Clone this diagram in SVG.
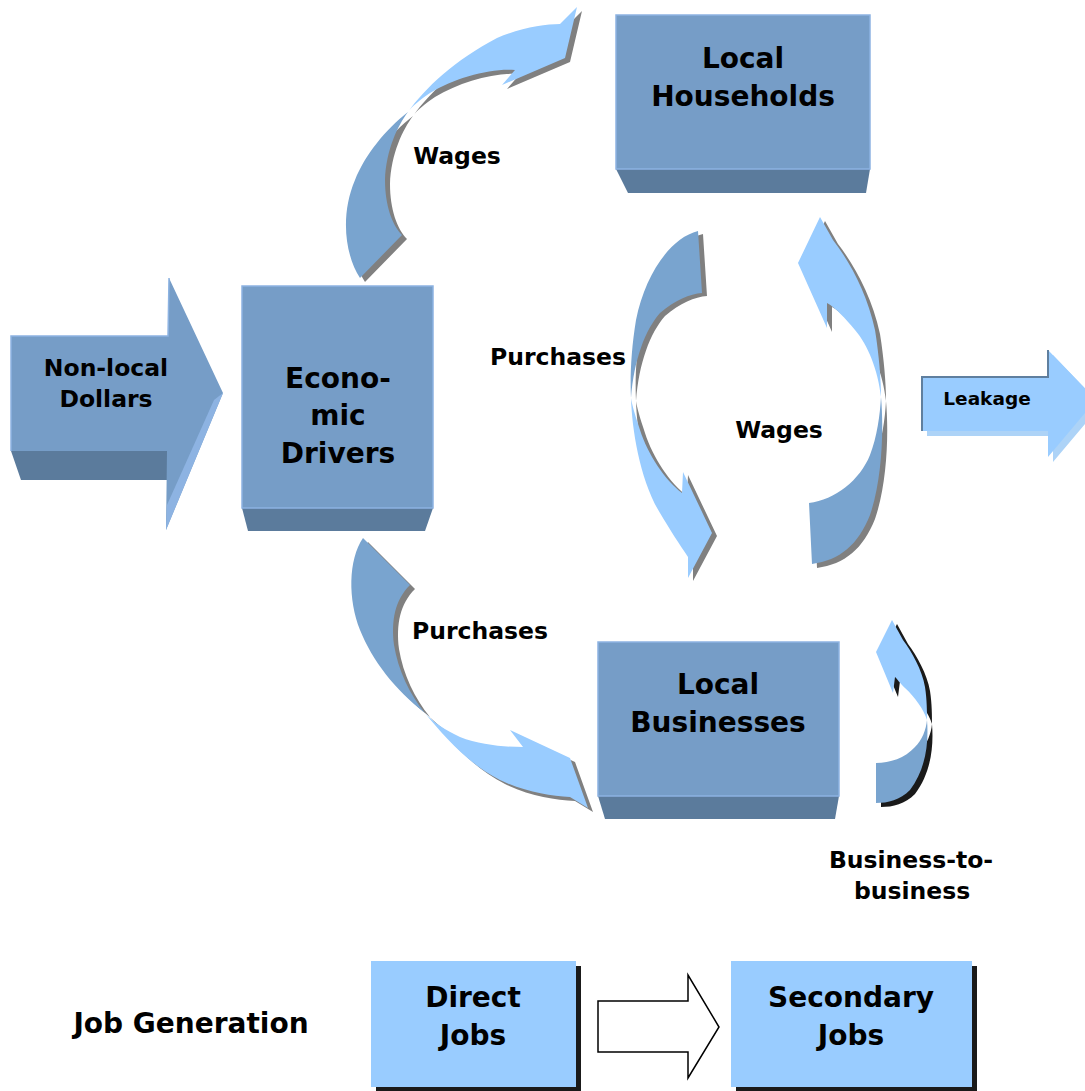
<svg xmlns="http://www.w3.org/2000/svg" width="1085" height="1091" viewBox="0 0 1085 1091">
<style>
.box{fill:#769DC7;stroke:#8DB3E2;stroke-width:1.5}
.bevel{fill:#5B7B9C}
.dark{fill:#79A4CF}
.light{fill:#99CCFF}
.shd{fill:#808080}
.t{font-family:"DejaVu Sans",Verdana,sans-serif;font-weight:bold;fill:#000;text-anchor:middle}
.big{font-size:28px}
.lab{font-size:23.5px}
</style>
<defs>
<g id="arrTop">
<path id="arrTopD" d="M360,278 C345,255 340,215 355,180 C365,155 385,130 408,112 C398,125 386,150 385,180 C385,205 392,225 402,235 Z"/>
<path id="arrTopL" d="M408,112 C425,88 455,60 497,38 C520,28 545,24 560,24 L577,7 L565,58 L502,85 L515,70 C490,68 455,78 430,93 C420,100 412,106 408,112 Z"/>
</g>
</defs>
<rect width="1085" height="1091" fill="#fff"/>

<g id="connectors">
<!-- Wages (top) -->
<g id="conn-wages-top">
<g class="shd" transform="translate(5,4)">
<path d="M360,278 C345,255 340,215 355,180 C365,155 385,130 408,112 C398,125 386,150 385,180 C385,205 392,225 402,235 Z"/>
<path d="M408,112 C425,88 455,60 497,38 C520,28 545,24 560,24 L577,7 L565,58 L502,85 L515,70 C490,68 455,78 430,93 C420,100 412,106 408,112 Z"/>
</g>
<path class="dark" d="M360,278 C345,255 340,215 355,180 C365,155 385,130 408,112 C398,125 386,150 385,180 C385,205 392,225 402,235 Z"/>
<path class="light" d="M408,112 C425,88 455,60 497,38 C520,28 545,24 560,24 L577,7 L565,58 L502,85 L515,70 C490,68 455,78 430,93 C420,100 412,106 408,112 Z"/>
</g>
<!-- Purchases (households to businesses) -->
<g id="conn-purchases-mid">
<g class="shd" transform="translate(5,3)">
<path d="M698,231 C670,238 645,275 636,320 C631,350 630,378 631,398 C634,360 645,330 660,313 C675,300 690,294 702,293 Z"/>
<path d="M631,398 C632,430 640,480 660,513 C670,530 680,545 688,557 L688,578 L712,533 L683,472 L682,493 C665,480 648,455 640,430 C635,415 632,405 631,398 Z"/>
</g>
<path class="dark" d="M698,231 C670,238 645,275 636,320 C631,350 630,378 631,398 C634,360 645,330 660,313 C675,300 690,294 702,293 Z"/>
<path class="light" d="M631,398 C632,430 640,480 660,513 C670,530 680,545 688,557 L688,578 L712,533 L683,472 L682,493 C665,480 648,455 640,430 C635,415 632,405 631,398 Z"/>
</g>
<!-- Wages (businesses to households) -->
<g id="conn-wages-mid">
<g class="shd" transform="translate(5,4)">
<path d="M820,217 L833,240 C850,262 867,293 875,330 C879,355 881,380 881,397 C878,370 868,345 855,330 C845,318 836,308 827,303 L827,328 L798,263 Z"/>
<path d="M881,397 C884,430 882,480 870,515 C858,545 840,560 812,564 L809,503 C835,500 860,480 870,455 C877,437 880,415 881,397 Z"/>
</g>
<path class="light" d="M820,217 L833,240 C850,262 867,293 875,330 C879,355 881,380 881,397 C878,370 868,345 855,330 C845,318 836,308 827,303 L827,328 L798,263 Z"/>
<path class="dark" d="M881,397 C884,430 882,480 870,515 C858,545 840,560 812,564 L809,503 C835,500 860,480 870,455 C877,437 880,415 881,397 Z"/>
</g>
<!-- Purchases (drivers to businesses) -->
<g id="conn-purchases-low">
<g class="shd" transform="translate(5,4)">
<path d="M363,538 C348,560 348,600 360,630 C372,660 395,690 425,713 C410,695 398,670 394,645 C391,620 395,600 410,585 Z"/>
<path d="M425,713 C445,738 470,765 500,780 C525,792 550,796 570,797 L588,808 L570,758 L510,730 L523,747 C505,747 480,745 460,737 C445,730 433,722 425,713 Z"/>
</g>
<path class="dark" d="M363,538 C348,560 348,600 360,630 C372,660 395,690 425,713 C410,695 398,670 394,645 C391,620 395,600 410,585 Z"/>
<path class="light" d="M425,713 C445,738 470,765 500,780 C525,792 550,796 570,797 L588,808 L570,758 L510,730 L523,747 C505,747 480,745 460,737 C445,730 433,722 425,713 Z"/>
</g>
<!-- Business-to-business -->
<g id="conn-b2b">
<g fill="#1a1a1a" transform="translate(5,4)">
<path d="M892,620 L903,640 C912,652 922,670 925,687 C927,700 927,712 927,720 C924,710 915,697 905,688 C900,683 897,679 895,677 L893,693 L876,652 Z"/>
<path d="M927,720 C929,745 925,770 910,790 C900,800 888,803 876,803 L876,763 C890,763 905,758 915,747 C922,740 926,730 927,720 Z"/>
</g>
<path class="light" d="M892,620 L903,640 C912,652 922,670 925,687 C927,700 927,712 927,720 C924,710 915,697 905,688 C900,683 897,679 895,677 L893,693 L876,652 Z"/>
<path class="dark" d="M927,720 C929,745 925,770 910,790 C900,800 888,803 876,803 L876,763 C890,763 905,758 915,747 C922,740 926,730 927,720 Z"/>
</g>
<!-- Job arrow -->
<polygon id="conn-jobs" points="598,1001 688,1001 688,975 719,1027 688,1078 688,1052 598,1052" fill="#fff" stroke="#000" stroke-width="1.5"/>
</g>

<g id="node-nonlocal">
<polygon class="bevel" points="11,451 167,451 167,480 21,480"/>
<polygon points="11,336 168,336 169,278 223,393 166,530 167,451 11,451" fill="#769DC7"/>
<polygon points="223,393 166,530 167,505 214,400" fill="#8DB3E2"/>
<polyline points="11,451 11,336 168,336 169,278" fill="none" stroke="#8DB3E2" stroke-width="1.5"/>
<text class="t lab" x="106" y="376">Non-local</text>
<text class="t lab" x="106" y="407">Dollars</text>
</g>

<g id="node-drivers">
<polygon class="bevel" points="242,508 433,508 425,531 248,531"/>
<rect class="box" x="242" y="286" width="191" height="222"/>
<text class="t big" x="338" y="388">Econo-</text>
<text class="t big" x="338" y="425">mic</text>
<text class="t big" x="338" y="463">Drivers</text>
</g>

<g id="node-households">
<polygon class="bevel" points="616,169 870,169 866,193 628,193"/>
<rect class="box" x="616" y="15" width="254" height="154"/>
<text class="t big" x="743" y="68">Local</text>
<text class="t big" x="743" y="106">Households</text>
</g>

<g id="node-businesses">
<polygon class="bevel" points="598,796 839,796 835,819 605,819"/>
<rect class="box" x="598" y="642" width="241" height="154"/>
<text class="t big" x="718" y="694">Local</text>
<text class="t big" x="718" y="732">Businesses</text>
</g>

<g id="node-leakage">
<polygon points="927,382 1053,382 1053,355 1101,405 1053,462 1053,436 927,436" fill="#ADD3F7"/>
<polygon points="922,377 1048,377 1048,350 1096,400 1048,457 1048,431 922,431" fill="#99CCFF"/>
<polyline points="922,431 922,377 1048,377 1048,350" fill="none" stroke="#5F7F9F" stroke-width="2"/>
<text class="t" style="font-size:18.5px" x="987" y="405">Leakage</text>
</g>

<g id="labels">
<text class="t lab" x="457" y="164">Wages</text>
<text class="t lab" x="558" y="365">Purchases</text>
<text class="t lab" x="779" y="438">Wages</text>
<text class="t lab" x="480" y="639">Purchases</text>
<text class="t lab" x="911" y="868">Business-to-</text>
<text class="t lab" x="912" y="899">business</text>
</g>

<g id="node-direct">
<rect x="376" y="966" width="205" height="126" fill="#1a1a1a"/>
<rect x="371" y="961" width="205" height="126" fill="#99CCFF"/>
<text class="t big" x="473" y="1007">Direct</text>
<text class="t big" x="473" y="1045">Jobs</text>
</g>

<g id="node-secondary">
<rect x="736" y="966" width="241" height="126" fill="#1a1a1a"/>
<rect x="731" y="961" width="241" height="126" fill="#99CCFF"/>
<text class="t big" x="851" y="1007">Secondary</text>
<text class="t big" x="851" y="1045">Jobs</text>
</g>

<g id="node-jobgen">
<text class="t big" x="191" y="1033">Job Generation</text>
</g>
</svg>
